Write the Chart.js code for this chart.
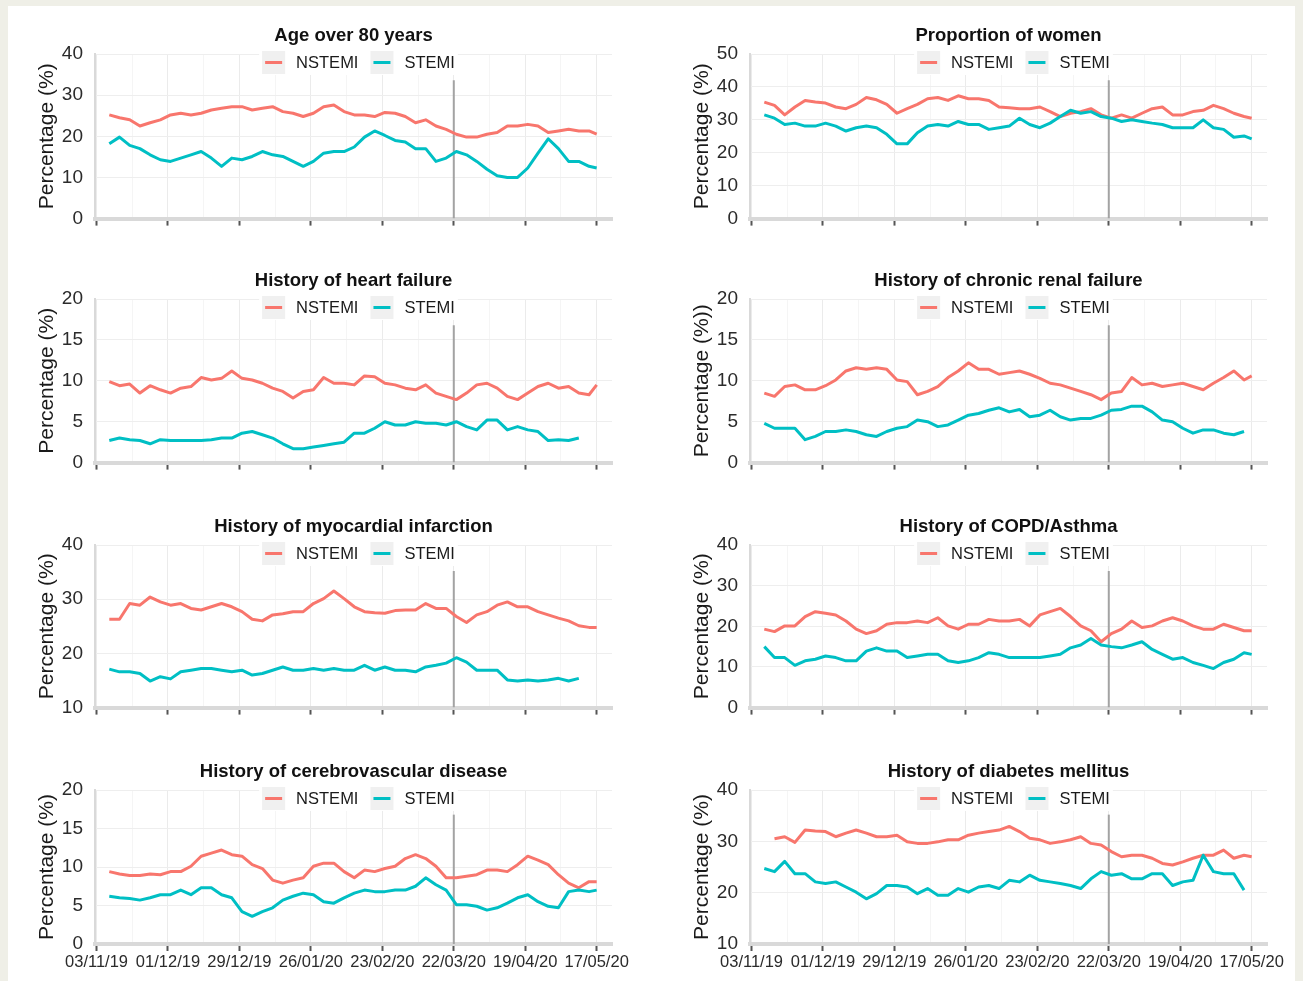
<!DOCTYPE html>
<html lang="en">
<head>
<meta charset="UTF-8">
<title>NSTEMI / STEMI characteristics</title>
<script src="https://cdn.jsdelivr.net/npm/chart.js"></script>
<style>
  body { margin: 0; width: 1303px; height: 981px; overflow: hidden; position: relative; background: #efefe7; }
  #card { position: absolute; left: 8px; top: 6px; width: 1287px; height: 975px; background: #fff; }
  canvas { position: absolute; }
</style>
</head>
<body>
<div id="card"></div>
<script>
// x values are days since 03/11/19
var sampleDays = [5, 9, 13, 17, 21, 25, 29, 33, 37, 41, 45, 49, 53, 57, 61, 65, 69, 73, 77, 81, 85, 89, 93, 97, 101,
  105, 109, 113, 117, 121, 125, 129, 133, 137, 141, 145, 149, 153, 157, 161, 165, 169, 173, 177, 181, 185, 189, 193, 196];
var gridDays = [0, 14, 28, 42, 56, 70, 84, 98, 112, 126, 140, 154, 168, 182, 196];
var dateTickDays = [0, 28, 56, 84, 112, 140, 168, 196];
var dateTickLabels = ['03/11/19', '01/12/19', '29/12/19', '26/01/20', '23/02/20', '22/03/20', '19/04/20', '17/05/20'];
var markerDay = 140; // 22/03/20

var panelTitles = ['Age over 80 years', 'Proportion of women', 'History of heart failure', 'History of chronic renal failure',
  'History of myocardial infarction', 'History of COPD/Asthma', 'History of cerebrovascular disease', 'History of diabetes mellitus'];
var yTitles = ['Percentage (%)', 'Percentage (%)', 'Percentage (%)', 'Percentage (%))',
  'Percentage (%)', 'Percentage (%)', 'Percentage (%)', 'Percentage (%)'];
var yMins = [0, 0, 0, 0, 10, 0, 0, 10];
var yMaxs = [40, 50, 20, 20, 40, 40, 20, 40];
var ySteps = [10, 10, 5, 5, 10, 10, 5, 10];

var ageN = [25.2, 24.5, 24, 22.5, 23.3, 24, 25.2, 25.6, 25.2, 25.6, 26.4, 26.8, 27.2, 27.2, 26.4, 26.8, 27.2, 26, 25.6, 24.8,
  25.6, 27.2, 27.6, 26, 25.2, 25.2, 24.8, 25.8, 25.6, 24.8, 23.3, 24, 22.5, 21.7, 20.5, 19.8, 19.8, 20.5, 20.9, 22.5,
  22.5, 22.9, 22.5, 20.9, 21.3, 21.7, 21.3, 21.3, 20.5];
var ageS = [18.2, 19.8, 17.8, 17, 15.5, 14.3, 13.9, 14.7, 15.5, 16.3, 14.7, 12.7, 14.7, 14.3, 15.1, 16.3, 15.5, 15.1, 13.9, 12.7,
  13.9, 15.9, 16.3, 16.3, 17.4, 19.8, 21.3, 20.2, 19, 18.6, 17, 17, 13.9, 14.7, 16.3, 15.5, 13.9, 12, 10.4, 10,
  10, 12.3, 15.9, 19.4, 17, 13.9, 13.9, 12.7, 12.3];
var womenN = [35.4, 34.4, 31.5, 33.9, 35.9, 35.4, 35.1, 33.9, 33.4, 34.7, 36.8, 36.1, 34.7, 32, 33.4, 34.7, 36.4, 36.8, 35.9, 37.3,
  36.4, 36.4, 35.9, 33.9, 33.7, 33.4, 33.4, 33.9, 32.5, 31, 32, 32.5, 33.4, 31.5, 30.5, 31.5, 30.5, 32, 33.4, 33.9,
  31.5, 31.5, 32.5, 32.9, 34.4, 33.4, 32, 31, 30.5];
var womenS = [31.5, 30.5, 28.6, 29, 28.1, 28.1, 29, 28.1, 26.6, 27.6, 28.1, 27.6, 25.6, 22.7, 22.7, 26.1, 28.1, 28.6, 28.1, 29.5,
  28.6, 28.6, 27.1, 27.6, 28.1, 30.5, 28.6, 27.6, 29, 31, 32.9, 32, 32.5, 31, 30.5, 29.5, 30, 29.5, 29, 28.6,
  27.6, 27.6, 27.6, 30, 27.6, 27.1, 24.7, 25.1, 24.2];
var hfN = [9.9, 9.4, 9.6, 8.5, 9.4, 8.9, 8.5, 9.1, 9.3, 10.4, 10.1, 10.3, 11.2, 10.3, 10.1, 9.7, 9.1, 8.7, 7.9, 8.7,
  8.9, 10.4, 9.7, 9.7, 9.5, 10.6, 10.5, 9.7, 9.5, 9.1, 8.9, 9.5, 8.5, 8.1, 7.7, 8.5, 9.5, 9.7, 9.1, 8.1,
  7.7, 8.5, 9.3, 9.7, 9.1, 9.3, 8.5, 8.3, 9.5];
var hfS = [2.7, 3, 2.8, 2.7, 2.3, 2.8, 2.7, 2.7, 2.7, 2.7, 2.8, 3, 3, 3.6, 3.8, 3.4, 3, 2.3, 1.7, 1.7,
  1.9, 2.1, 2.3, 2.5, 3.6, 3.6, 4.2, 5, 4.6, 4.6, 5, 4.8, 4.8, 4.6, 5, 4.4, 4, 5.2, 5.2, 4,
  4.4, 4, 3.8, 2.7, 2.8, 2.7, 3.0, null, null];
var crfN = [8.5, 8.1, 9.3, 9.5, 8.9, 8.9, 9.4, 10.1, 11.2, 11.6, 11.4, 11.6, 11.4, 10.1, 9.9, 8.3, 8.7, 9.3, 10.4, 11.2,
  12.2, 11.4, 11.4, 10.8, 11, 11.2, 10.8, 10.3, 9.7, 9.5, 9.1, 8.7, 8.3, 7.7, 8.5, 8.7, 10.4, 9.5, 9.7, 9.3,
  9.5, 9.7, 9.3, 8.9, 9.7, 10.4, 11.2, 10.1, 10.6];
var crfS = [4.8, 4.2, 4.2, 4.2, 2.8, 3.2, 3.8, 3.8, 4, 3.8, 3.4, 3.2, 3.8, 4.2, 4.4, 5.2, 5, 4.4, 4.6, 5.2,
  5.8, 6, 6.4, 6.7, 6.2, 6.5, 5.6, 5.8, 6.4, 5.6, 5.2, 5.4, 5.4, 5.8, 6.4, 6.5, 6.9, 6.9, 6.2, 5.2,
  5, 4.2, 3.6, 4, 4, 3.6, 3.4, 3.8, null];
var miN = [26.3, 26.3, 29.2, 28.9, 30.4, 29.5, 28.9, 29.2, 28.3, 28, 28.6, 29.2, 28.6, 27.7, 26.3, 26, 27.1, 27.3, 27.7, 27.7,
  29.2, 30.1, 31.5, 30.1, 28.6, 27.7, 27.5, 27.4, 27.9, 28, 28, 29.2, 28.3, 28.3, 26.8, 25.7, 27.1, 27.7, 28.9, 29.5,
  28.6, 28.6, 27.7, 27.1, 26.5, 26, 25.1, 24.8, 24.8];
var miS = [17.1, 16.6, 16.6, 16.3, 14.9, 15.7, 15.3, 16.6, 16.9, 17.2, 17.2, 16.9, 16.6, 16.9, 16, 16.3, 16.9, 17.5, 16.9, 16.9,
  17.2, 16.9, 17.2, 16.9, 16.9, 17.8, 16.9, 17.5, 16.9, 16.9, 16.6, 17.5, 17.8, 18.2, 19.2, 18.4, 16.9, 16.9, 16.9, 15.1,
  14.9, 15.1, 14.9, 15.1, 15.4, 14.9, 15.4, null, null];
var copdN = [19.3, 18.7, 20.1, 20.1, 22.4, 23.6, 23.2, 22.8, 21.3, 19.3, 18.2, 18.9, 20.5, 20.9, 20.9, 21.3, 20.9, 22.1, 20.1, 19.3,
  20.5, 20.5, 21.7, 21.3, 21.3, 21.7, 20.1, 22.8, 23.6, 24.4, 22.4, 20.1, 18.9, 16.2, 18.2, 19.3, 21.3, 19.7, 20.1, 21.3,
  22.1, 21.3, 20.1, 19.3, 19.3, 20.5, 19.7, 18.9, 18.9];
var copdS = [15, 12.3, 12.3, 10.4, 11.5, 11.9, 12.7, 12.3, 11.5, 11.5, 13.9, 14.7, 13.9, 13.9, 12.3, 12.7, 13.1, 13.1, 11.5, 11.1,
  11.5, 12.3, 13.5, 13.1, 12.3, 12.3, 12.3, 12.3, 12.7, 13.1, 14.7, 15.4, 17, 15.4, 15, 14.7, 15.4, 16.2, 14.3, 13.1,
  11.9, 12.3, 11.1, 10.4, 9.6, 11.1, 11.9, 13.5, 13.1];
var cvdN = [9.4, 9.1, 8.9, 8.9, 9.1, 9, 9.4, 9.4, 10.1, 11.4, 11.8, 12.2, 11.6, 11.4, 10.3, 9.8, 8.3, 7.9, 8.3, 8.6,
  10.1, 10.5, 10.5, 9.4, 8.6, 9.6, 9.4, 9.8, 10.1, 11.1, 11.6, 11.1, 10.1, 8.6, 8.6, 8.8, 9, 9.6, 9.6, 9.4,
  10.3, 11.4, 10.9, 10.3, 9, 7.9, 7.3, 8.1, 8.1];
var cvdS = [6.2, 6, 5.9, 5.7, 6, 6.4, 6.4, 7, 6.4, 7.3, 7.3, 6.4, 6, 4.2, 3.6, 4.2, 4.7, 5.7, 6.2, 6.6,
  6.4, 5.5, 5.3, 6, 6.6, 7, 6.8, 6.8, 7, 7, 7.5, 8.6, 7.7, 7, 5.1, 5.1, 4.9, 4.4, 4.7, 5.3,
  6, 6.4, 5.5, 4.9, 4.7, 6.8, 7, 6.8, 7];
var dmN = [null, 30.5, 30.9, 29.8, 32.2, 32, 31.9, 30.9, 31.6, 32.2, 31.6, 30.9, 30.9, 31.2, 29.9, 29.6, 29.6, 29.9, 30.3, 30.3,
  31.2, 31.6, 31.9, 32.2, 32.9, 31.9, 30.6, 30.3, 29.6, 29.9, 30.3, 30.9, 29.6, 29.3, 28, 27, 27.3, 27.3, 26.7, 25.7,
  25.4, 26, 26.7, 27.3, 27.3, 28.3, 26.7, 27.3, 27];
var dmS = [24.7, 24.1, 26.1, 23.7, 23.7, 22.1, 21.8, 22.1, 21.1, 20.1, 18.8, 19.8, 21.4, 21.4, 21.1, 19.8, 20.8, 19.5, 19.5, 20.8,
  20.1, 21.1, 21.4, 20.8, 22.4, 22.1, 23.4, 22.4, 22.1, 21.8, 21.4, 20.8, 22.7, 24.1, 23.4, 23.7, 22.7, 22.7, 23.7, 23.7,
  21.4, 22.1, 22.4, 27.3, 24.1, 23.7, 23.7, 20.5, null];

var nstemiSeries = [ageN, womenN, hfN, crfN, miN, copdN, cvdN, dmN];
var stemiSeries = [ageS, womenS, hfS, crfS, miS, copdS, cvdS, dmS];

var FONT = '"Liberation Sans", Arial, Helvetica, sans-serif';
Chart.defaults.font.family = FONT;
var NCOL = '#F8766D', SCOL = '#00BFC4';

// panel title + ggplot-like legend inside the top of the panel
var ggExtras = {
  id: 'ggExtras',
  afterDraw: function (chart, args, opts) {
    var ctx = chart.ctx, a = chart.chartArea;
    var cx = (a.left + a.right) / 2;
    ctx.save();
    ctx.textBaseline = 'middle';
    ctx.textAlign = 'center';
    ctx.fillStyle = '#111';
    ctx.font = 'bold 18.5px ' + FONT;
    ctx.fillText(opts.title, cx, a.top - 18);

    ctx.font = '16.5px ' + FONT;
    var items = [['NSTEMI', NCOL], ['STEMI', SCOL]];
    var key = 23, gapT = 11, gapK = 12;
    var total = key + gapT + ctx.measureText('NSTEMI').width + gapK + key + gapT + ctx.measureText('STEMI').width;
    var x = cx + 5 - total / 2;
    var ky = a.top - 3;
    ctx.fillStyle = '#fff';
    ctx.fillRect(x - 3, ky - 1, total + 6, key + 2);
    ctx.textAlign = 'left';
    items.forEach(function (it) {
      ctx.fillStyle = '#f0f0f0';
      ctx.fillRect(x, ky, key, key);
      ctx.strokeStyle = it[1];
      ctx.lineWidth = 3;
      ctx.beginPath();
      ctx.moveTo(x + 3, ky + key / 2);
      ctx.lineTo(x + key - 3, ky + key / 2);
      ctx.stroke();
      x += key + gapT;
      ctx.fillStyle = '#1a1a1a';
      ctx.fillText(it[0], x, ky + key / 2 + 1);
      x += ctx.measureText(it[0]).width + gapK;
    });
    ctx.restore();
  }
};

var colLeft = [0, 655];
var rowTop = [54, 299, 545, 790];
var rowBottom = [228, 472, 717, 944];

function toPts(s) {
  return sampleDays.map(function (d, k) { return { x: d, y: s[k] }; });
}

function makePanel(i) {
  var col = i % 2, row = Math.floor(i / 2);
  var last = row === 3;
  var top = rowTop[row] - 33;
  var xh = last ? 36 : 14;
  var h = rowBottom[row] - top + xh;
  var cv = document.createElement('canvas');
  cv.width = 640;
  cv.height = h;
  cv.style.left = colLeft[col] + 'px';
  cv.style.top = top + 'px';
  cv.style.width = '640px';
  cv.style.height = h + 'px';
  document.body.appendChild(cv);

  new Chart(cv, {
    type: 'line',
    data: {
      datasets: [{
        label: 'NSTEMI',
        data: toPts(nstemiSeries[i]),
        borderColor: NCOL,
        borderWidth: 3,
        borderJoinStyle: 'round',
        pointRadius: 0,
        order: 2
      }, {
        label: 'STEMI',
        data: toPts(stemiSeries[i]),
        borderColor: SCOL,
        borderWidth: 3,
        borderJoinStyle: 'round',
        pointRadius: 0,
        order: 1
      }, {
        label: 'lockdown',
        data: [{ x: markerDay, y: yMins[i] }, { x: markerDay, y: yMins[i] + 0.84 * (yMaxs[i] - yMins[i]) }],
        borderColor: '#a3a3a3',
        borderWidth: 2,
        pointRadius: 0,
        order: 3
      }]
    },
    options: {
      responsive: false,
      animation: false,
      events: [],
      layout: { padding: { left: 35, right: 28, top: 33, bottom: 0 } },
      plugins: {
        legend: { display: false },
        tooltip: { enabled: false },
        ggExtras: { title: panelTitles[i] }
      },
      scales: {
        x: {
          type: 'linear',
          min: -0.6,
          max: 202,
          afterBuildTicks: function (s) { s.ticks = gridDays.map(function (v) { return { value: v }; }); },
          afterFit: function (s) { s.height = xh; },
          ticks: {
            display: last,
            autoSkip: false,
            maxRotation: 0,
            minRotation: 0,
            padding: 2,
            color: '#2b2b2b',
            font: { size: 16.5 },
            callback: function (v) {
              var k = dateTickDays.indexOf(v);
              return k < 0 ? '' : dateTickLabels[k];
            }
          },
          grid: {
            color: function (c) { return c.tick && c.tick.value % 28 === 0 ? '#ebebeb' : '#f5f5f5'; },
            tickColor: function (c) { return c.tick && c.tick.value % 28 === 0 ? '#555' : 'rgba(0,0,0,0)'; },
            tickLength: 7,
            tickWidth: 2
          },
          border: { color: '#d9d9d9', width: 4 }
        },
        y: {
          min: yMins[i],
          max: yMaxs[i],
          afterFit: function (s) { s.width = 60; },
          ticks: { stepSize: ySteps[i], padding: 12, color: '#2b2b2b', font: { size: 19 } },
          grid: { color: '#eeeeee', drawTicks: false },
          border: { color: '#d9d9d9', width: 2 },
          title: { display: true, text: yTitles[i], color: '#1a1a1a', font: { size: 21 }, padding: 0 }
        }
      }
    },
    plugins: [ggExtras]
  });
}

for (var i = 0; i < 8; i++) makePanel(i);
</script>
</body>
</html>
